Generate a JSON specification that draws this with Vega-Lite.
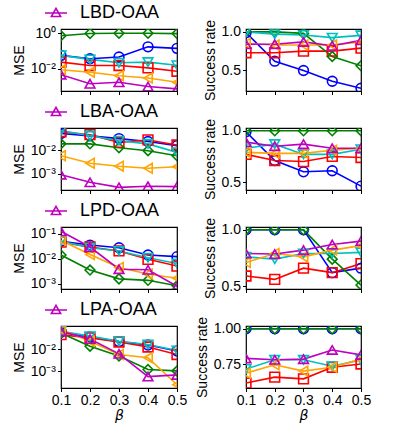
{
  "$schema": "https://vega.github.io/schema/vega-lite/v6.json",
  "padding": {"left": 11, "top": 0, "right": 5, "bottom": 0},
  "config": {
    "font": "Liberation Sans",
    "view": {"stroke": "black", "strokeWidth": 1.2},
    "axis": {"domain": false, "grid": false, "ticks": true, "tickSize": 3.5, "tickColor": "black", "tickWidth": 1, "labelFont": "Liberation Sans", "labelFontSize": 14, "labelColor": "black", "titleFont": "Liberation Sans", "titleFontSize": 14, "titleFontWeight": "normal", "titleColor": "black", "labelPadding": 2, "titlePadding": 4, "labelOverlap": false, "labelFlush": false},
    "legend": {"labelFont": "Liberation Sans"}
  },
  "data": {"values": [
    {"p":"1L","s":"b","x":0.1,"y":0.057},{"p":"1L","s":"b","x":0.2,"y":0.037},{"p":"1L","s":"b","x":0.3,"y":0.046},{"p":"1L","s":"b","x":0.4,"y":0.17},{"p":"1L","s":"b","x":0.5,"y":0.14},
    {"p":"1L","s":"r","x":0.1,"y":0.024},{"p":"1L","s":"r","x":0.2,"y":0.0155},{"p":"1L","s":"r","x":0.3,"y":0.0155},{"p":"1L","s":"r","x":0.4,"y":0.0114},{"p":"1L","s":"r","x":0.5,"y":0.0074},
    {"p":"1L","s":"g","x":0.1,"y":0.70},{"p":"1L","s":"g","x":0.2,"y":0.95},{"p":"1L","s":"g","x":0.3,"y":0.97},{"p":"1L","s":"g","x":0.4,"y":0.97},{"p":"1L","s":"g","x":0.5,"y":0.93},
    {"p":"1L","s":"c","x":0.1,"y":0.057},{"p":"1L","s":"c","x":0.2,"y":0.034},{"p":"1L","s":"c","x":0.3,"y":0.022},{"p":"1L","s":"c","x":0.4,"y":0.024},{"p":"1L","s":"c","x":0.5,"y":0.016},
    {"p":"1L","s":"o","x":0.1,"y":0.0091},{"p":"1L","s":"o","x":0.2,"y":0.0065},{"p":"1L","s":"o","x":0.3,"y":0.0042},{"p":"1L","s":"o","x":0.4,"y":0.0031},{"p":"1L","s":"o","x":0.5,"y":0.0018},
    {"p":"1L","s":"m","x":0.1,"y":0.0048},{"p":"1L","s":"m","x":0.2,"y":0.0015},{"p":"1L","s":"m","x":0.3,"y":0.0018},{"p":"1L","s":"m","x":0.4,"y":0.00105},{"p":"1L","s":"m","x":0.5,"y":0.00077},

    {"p":"1R","s":"b","x":0.1,"y":0.99},{"p":"1R","s":"b","x":0.2,"y":0.62},{"p":"1R","s":"b","x":0.3,"y":0.50},{"p":"1R","s":"b","x":0.4,"y":0.36},{"p":"1R","s":"b","x":0.5,"y":0.27},
    {"p":"1R","s":"r","x":0.1,"y":0.73},{"p":"1R","s":"r","x":0.2,"y":0.73},{"p":"1R","s":"r","x":0.3,"y":0.75},{"p":"1R","s":"r","x":0.4,"y":0.75},{"p":"1R","s":"r","x":0.5,"y":0.79},
    {"p":"1R","s":"g","x":0.1,"y":1.0},{"p":"1R","s":"g","x":0.2,"y":1.0},{"p":"1R","s":"g","x":0.3,"y":0.98},{"p":"1R","s":"g","x":0.4,"y":0.68},{"p":"1R","s":"g","x":0.5,"y":0.56},
    {"p":"1R","s":"c","x":0.1,"y":1.0},{"p":"1R","s":"c","x":0.2,"y":0.97},{"p":"1R","s":"c","x":0.3,"y":0.96},{"p":"1R","s":"c","x":0.4,"y":0.925},{"p":"1R","s":"c","x":0.5,"y":0.955},
    {"p":"1R","s":"o","x":0.1,"y":0.85},{"p":"1R","s":"o","x":0.2,"y":0.83},{"p":"1R","s":"o","x":0.3,"y":0.83},{"p":"1R","s":"o","x":0.4,"y":0.83},{"p":"1R","s":"o","x":0.5,"y":0.87},
    {"p":"1R","s":"m","x":0.1,"y":0.84},{"p":"1R","s":"m","x":0.2,"y":0.84},{"p":"1R","s":"m","x":0.3,"y":0.87},{"p":"1R","s":"m","x":0.4,"y":0.82},{"p":"1R","s":"m","x":0.5,"y":0.89},

    {"p":"2L","s":"b","x":0.1,"y":0.053},{"p":"2L","s":"b","x":0.2,"y":0.042},{"p":"2L","s":"b","x":0.3,"y":0.032},{"p":"2L","s":"b","x":0.4,"y":0.024},{"p":"2L","s":"b","x":0.5,"y":0.016},
    {"p":"2L","s":"r","x":0.1,"y":0.063},{"p":"2L","s":"r","x":0.2,"y":0.047},{"p":"2L","s":"r","x":0.3,"y":0.022},{"p":"2L","s":"r","x":0.4,"y":0.028},{"p":"2L","s":"r","x":0.5,"y":0.017},
    {"p":"2L","s":"g","x":0.1,"y":0.019},{"p":"2L","s":"g","x":0.2,"y":0.019},{"p":"2L","s":"g","x":0.3,"y":0.013},{"p":"2L","s":"g","x":0.4,"y":0.0097},{"p":"2L","s":"g","x":0.5,"y":0.0059},
    {"p":"2L","s":"c","x":0.1,"y":0.070},{"p":"2L","s":"c","x":0.2,"y":0.042},{"p":"2L","s":"c","x":0.3,"y":0.026},{"p":"2L","s":"c","x":0.4,"y":0.019},{"p":"2L","s":"c","x":0.5,"y":0.0082},
    {"p":"2L","s":"o","x":0.1,"y":0.0059},{"p":"2L","s":"o","x":0.2,"y":0.0028},{"p":"2L","s":"o","x":0.3,"y":0.0021},{"p":"2L","s":"o","x":0.4,"y":0.0017},{"p":"2L","s":"o","x":0.5,"y":0.0020},
    {"p":"2L","s":"m","x":0.1,"y":0.00091},{"p":"2L","s":"m","x":0.2,"y":0.00043},{"p":"2L","s":"m","x":0.3,"y":0.00026},{"p":"2L","s":"m","x":0.4,"y":0.00029},{"p":"2L","s":"m","x":0.5,"y":0.00028},

    {"p":"2R","s":"b","x":0.1,"y":0.99},{"p":"2R","s":"b","x":0.2,"y":0.71},{"p":"2R","s":"b","x":0.3,"y":0.60},{"p":"2R","s":"b","x":0.4,"y":0.61},{"p":"2R","s":"b","x":0.5,"y":0.46},
    {"p":"2R","s":"r","x":0.1,"y":0.77},{"p":"2R","s":"r","x":0.2,"y":0.71},{"p":"2R","s":"r","x":0.3,"y":0.70},{"p":"2R","s":"r","x":0.4,"y":0.75},{"p":"2R","s":"r","x":0.5,"y":0.74},
    {"p":"2R","s":"g","x":0.1,"y":1.0},{"p":"2R","s":"g","x":0.2,"y":1.0},{"p":"2R","s":"g","x":0.3,"y":1.0},{"p":"2R","s":"g","x":0.4,"y":1.0},{"p":"2R","s":"g","x":0.5,"y":1.0},
    {"p":"2R","s":"c","x":0.1,"y":0.83},{"p":"2R","s":"c","x":0.2,"y":0.87},{"p":"2R","s":"c","x":0.3,"y":0.77},{"p":"2R","s":"c","x":0.4,"y":0.77},{"p":"2R","s":"c","x":0.5,"y":0.82},
    {"p":"2R","s":"o","x":0.1,"y":0.79},{"p":"2R","s":"o","x":0.2,"y":0.78},{"p":"2R","s":"o","x":0.3,"y":0.78},{"p":"2R","s":"o","x":0.4,"y":0.81},{"p":"2R","s":"o","x":0.5,"y":0.83},
    {"p":"2R","s":"m","x":0.1,"y":0.89},{"p":"2R","s":"m","x":0.2,"y":0.85},{"p":"2R","s":"m","x":0.3,"y":0.87},{"p":"2R","s":"m","x":0.4,"y":0.83},{"p":"2R","s":"m","x":0.5,"y":0.83},

    {"p":"3L","s":"b","x":0.1,"y":0.051},{"p":"3L","s":"b","x":0.2,"y":0.036},{"p":"3L","s":"b","x":0.3,"y":0.028},{"p":"3L","s":"b","x":0.4,"y":0.0144},{"p":"3L","s":"b","x":0.5,"y":0.0124},
    {"p":"3L","s":"r","x":0.1,"y":0.047},{"p":"3L","s":"r","x":0.2,"y":0.030},{"p":"3L","s":"r","x":0.3,"y":0.021},{"p":"3L","s":"r","x":0.4,"y":0.0097},{"p":"3L","s":"r","x":0.5,"y":0.0052},
    {"p":"3L","s":"g","x":0.1,"y":0.0144},{"p":"3L","s":"g","x":0.2,"y":0.0036},{"p":"3L","s":"g","x":0.3,"y":0.0016},{"p":"3L","s":"g","x":0.4,"y":0.0014},{"p":"3L","s":"g","x":0.5,"y":0.00085},
    {"p":"3L","s":"c","x":0.1,"y":0.051},{"p":"3L","s":"c","x":0.2,"y":0.028},{"p":"3L","s":"c","x":0.3,"y":0.021},{"p":"3L","s":"c","x":0.4,"y":0.0112},{"p":"3L","s":"c","x":0.5,"y":0.0066},
    {"p":"3L","s":"o","x":0.1,"y":0.056},{"p":"3L","s":"o","x":0.2,"y":0.015},{"p":"3L","s":"o","x":0.3,"y":0.0046},{"p":"3L","s":"o","x":0.4,"y":0.0025},{"p":"3L","s":"o","x":0.5,"y":0.0017},
    {"p":"3L","s":"m","x":0.1,"y":0.128},{"p":"3L","s":"m","x":0.2,"y":0.030},{"p":"3L","s":"m","x":0.3,"y":0.0039},{"p":"3L","s":"m","x":0.4,"y":0.0037},{"p":"3L","s":"m","x":0.5,"y":0.00081},

    {"p":"3R","s":"b","x":0.1,"y":1.0},{"p":"3R","s":"b","x":0.2,"y":1.0},{"p":"3R","s":"b","x":0.3,"y":1.0},{"p":"3R","s":"b","x":0.4,"y":0.62},{"p":"3R","s":"b","x":0.5,"y":0.66},
    {"p":"3R","s":"r","x":0.1,"y":0.59},{"p":"3R","s":"r","x":0.2,"y":0.56},{"p":"3R","s":"r","x":0.3,"y":0.66},{"p":"3R","s":"r","x":0.4,"y":0.62},{"p":"3R","s":"r","x":0.5,"y":0.70},
    {"p":"3R","s":"g","x":0.1,"y":1.0},{"p":"3R","s":"g","x":0.2,"y":1.0},{"p":"3R","s":"g","x":0.3,"y":1.0},{"p":"3R","s":"g","x":0.4,"y":0.74},{"p":"3R","s":"g","x":0.5,"y":0.51},
    {"p":"3R","s":"c","x":0.1,"y":0.76},{"p":"3R","s":"c","x":0.2,"y":0.74},{"p":"3R","s":"c","x":0.3,"y":0.79},{"p":"3R","s":"c","x":0.4,"y":0.79},{"p":"3R","s":"c","x":0.5,"y":0.80},
    {"p":"3R","s":"o","x":0.1,"y":0.71},{"p":"3R","s":"o","x":0.2,"y":0.79},{"p":"3R","s":"o","x":0.3,"y":0.76},{"p":"3R","s":"o","x":0.4,"y":0.82},{"p":"3R","s":"o","x":0.5,"y":0.86},
    {"p":"3R","s":"m","x":0.1,"y":0.79},{"p":"3R","s":"m","x":0.2,"y":0.785},{"p":"3R","s":"m","x":0.3,"y":0.82},{"p":"3R","s":"m","x":0.4,"y":0.87},{"p":"3R","s":"m","x":0.5,"y":0.90},

    {"p":"4L","s":"b","x":0.1,"y":0.062},{"p":"4L","s":"b","x":0.2,"y":0.038},{"p":"4L","s":"b","x":0.3,"y":0.023},{"p":"4L","s":"b","x":0.4,"y":0.016},{"p":"4L","s":"b","x":0.5,"y":0.0085},
    {"p":"4L","s":"r","x":0.1,"y":0.048},{"p":"4L","s":"r","x":0.2,"y":0.034},{"p":"4L","s":"r","x":0.3,"y":0.022},{"p":"4L","s":"r","x":0.4,"y":0.013},{"p":"4L","s":"r","x":0.5,"y":0.0059},
    {"p":"4L","s":"g","x":0.1,"y":0.057},{"p":"4L","s":"g","x":0.2,"y":0.014},{"p":"4L","s":"g","x":0.3,"y":0.005},{"p":"4L","s":"g","x":0.4,"y":0.0012},{"p":"4L","s":"g","x":0.5,"y":0.00104},
    {"p":"4L","s":"c","x":0.1,"y":0.068},{"p":"4L","s":"c","x":0.2,"y":0.041},{"p":"4L","s":"c","x":0.3,"y":0.024},{"p":"4L","s":"c","x":0.4,"y":0.017},{"p":"4L","s":"c","x":0.5,"y":0.0090},
    {"p":"4L","s":"o","x":0.1,"y":0.081},{"p":"4L","s":"o","x":0.2,"y":0.024},{"p":"4L","s":"o","x":0.3,"y":0.0059},{"p":"4L","s":"o","x":0.4,"y":0.0042},{"p":"4L","s":"o","x":0.5,"y":0.00024},
    {"p":"4L","s":"m","x":0.1,"y":0.068},{"p":"4L","s":"m","x":0.2,"y":0.030},{"p":"4L","s":"m","x":0.3,"y":0.0063},{"p":"4L","s":"m","x":0.4,"y":0.00057},{"p":"4L","s":"m","x":0.5,"y":0.00068},

    {"p":"4R","s":"b","x":0.1,"y":1.0},{"p":"4R","s":"b","x":0.2,"y":1.0},{"p":"4R","s":"b","x":0.3,"y":1.0},{"p":"4R","s":"b","x":0.4,"y":1.0},{"p":"4R","s":"b","x":0.5,"y":1.0},
    {"p":"4R","s":"r","x":0.1,"y":0.615},{"p":"4R","s":"r","x":0.2,"y":0.657},{"p":"4R","s":"r","x":0.3,"y":0.645},{"p":"4R","s":"r","x":0.4,"y":0.727},{"p":"4R","s":"r","x":0.5,"y":0.75},
    {"p":"4R","s":"g","x":0.1,"y":1.0},{"p":"4R","s":"g","x":0.2,"y":1.0},{"p":"4R","s":"g","x":0.3,"y":1.0},{"p":"4R","s":"g","x":0.4,"y":1.0},{"p":"4R","s":"g","x":0.5,"y":1.0},
    {"p":"4R","s":"c","x":0.1,"y":0.715},{"p":"4R","s":"c","x":0.2,"y":0.78},{"p":"4R","s":"c","x":0.3,"y":0.78},{"p":"4R","s":"c","x":0.4,"y":0.735},{"p":"4R","s":"c","x":0.5,"y":0.78},
    {"p":"4R","s":"o","x":0.1,"y":0.685},{"p":"4R","s":"o","x":0.2,"y":0.745},{"p":"4R","s":"o","x":0.3,"y":0.70},{"p":"4R","s":"o","x":0.4,"y":0.727},{"p":"4R","s":"o","x":0.5,"y":0.785},
    {"p":"4R","s":"m","x":0.1,"y":0.79},{"p":"4R","s":"m","x":0.2,"y":0.78},{"p":"4R","s":"m","x":0.3,"y":0.785},{"p":"4R","s":"m","x":0.4,"y":0.85},{"p":"4R","s":"m","x":0.5,"y":0.815}
  ]},
  "columns": 2,
  "bounds": "flush",
  "spacing": {"row": 37, "column": 69},
  "resolve": {"scale": {"color": "independent", "x": "independent", "y": "independent"}, "legend": {"color": "independent"}},
  "concat": [
      {"width": 116, "height": 62, "transform": [{"filter": "datum.p == '1L'"}],
       "encoding": {
         "x": {"field": "x", "type": "quantitative", "scale": {"domain": [0.1, 0.5], "nice": false, "zero": false}, "axis": {"values": [0.1, 0.2, 0.3, 0.4, 0.5], "labels": false, "title": null}},
         "y": {"field": "y", "type": "quantitative", "scale": {"type": "log", "domain": [0.00059, 1.68], "nice": false}, "axis": {"values": [1, 0.01], "labelExpr": "datum.value > 0.5 ? '10⁰' : datum.value > 0.05 ? '10⁻¹' : datum.value > 0.005 ? '10⁻²' : '10⁻³'", "title": "MSE"}}
       },
       "layer": [
         {"mark": {"type": "line", "strokeWidth": 1.6, "clip": true},
          "encoding": {"color": {"field": "s", "type": "nominal", "scale": {"domain": ["b", "r", "g", "c", "o", "m"], "range": ["#0000ff", "#ff0000", "#008000", "#00bfbf", "#ffa500", "#bf00bf"]},
            "legend": {"values": ["m"], "labelExpr": "'LBD-OAA'", "title": null, "orient": "none", "legendX": -17, "legendY": -28, "symbolType": "M-1,0H1M0,-0.42L0.42,0.32L-0.42,0.32Z", "symbolSize": 484, "symbolStrokeWidth": 1.6, "labelFontSize": 18, "labelColor": "black", "labelOffset": 12}}}},
         {"mark": {"type": "point", "filled": false, "size": 95, "strokeWidth": 1.6, "clip": true, "opacity": 1},
          "encoding": {"color": {"field": "s", "type": "nominal", "legend": null},
            "shape": {"condition": [{"test": "datum.s == 'b'", "value": "circle"}, {"test": "datum.s == 'r'", "value": "square"}, {"test": "datum.s == 'g'", "value": "diamond"}, {"test": "datum.s == 'c'", "value": "triangle-down"}, {"test": "datum.s == 'o'", "value": "triangle-left"}], "value": "triangle-up"}}}
       ]},
      {"width": 115, "height": 62, "transform": [{"filter": "datum.p == '1R'"}],
       "encoding": {
         "x": {"field": "x", "type": "quantitative", "scale": {"domain": [0.1, 0.5], "nice": false, "zero": false}, "axis": {"values": [0.1, 0.2, 0.3, 0.4, 0.5], "labels": false, "title": null}},
         "y": {"field": "y", "type": "quantitative", "scale": {"domain": [0.234, 1.037], "nice": false, "zero": false}, "axis": {"values": [0.5, 1.0], "format": ".1f", "title": "Success rate"}},
         "color": {"field": "s", "type": "nominal", "scale": {"domain": ["b", "r", "g", "c", "o", "m"], "range": ["#0000ff", "#ff0000", "#008000", "#00bfbf", "#ffa500", "#bf00bf"]}, "legend": null}
       },
       "layer": [
         {"mark": {"type": "line", "strokeWidth": 1.6, "clip": true}, "encoding": {}},
         {"mark": {"type": "point", "filled": false, "size": 95, "strokeWidth": 1.6, "clip": true, "opacity": 1},
          "encoding": {"shape": {"condition": [{"test": "datum.s == 'b'", "value": "circle"}, {"test": "datum.s == 'r'", "value": "square"}, {"test": "datum.s == 'g'", "value": "diamond"}, {"test": "datum.s == 'c'", "value": "triangle-down"}, {"test": "datum.s == 'o'", "value": "triangle-left"}], "value": "triangle-up"}}}
       ]},
      {"width": 116, "height": 62, "transform": [{"filter": "datum.p == '2L'"}],
       "encoding": {
         "x": {"field": "x", "type": "quantitative", "scale": {"domain": [0.1, 0.5], "nice": false, "zero": false}, "axis": {"values": [0.1, 0.2, 0.3, 0.4, 0.5], "labels": false, "title": null}},
         "y": {"field": "y", "type": "quantitative", "scale": {"type": "log", "domain": [0.0002, 0.091], "nice": false}, "axis": {"values": [0.01, 0.001], "labelExpr": "datum.value > 0.5 ? '10⁰' : datum.value > 0.05 ? '10⁻¹' : datum.value > 0.005 ? '10⁻²' : '10⁻³'", "title": "MSE"}}
       },
       "layer": [
         {"mark": {"type": "line", "strokeWidth": 1.6, "clip": true},
          "encoding": {"color": {"field": "s", "type": "nominal", "scale": {"domain": ["b", "r", "g", "c", "o", "m"], "range": ["#0000ff", "#ff0000", "#008000", "#00bfbf", "#ffa500", "#bf00bf"]},
            "legend": {"values": ["m"], "labelExpr": "'LBA-OAA'", "title": null, "orient": "none", "legendX": -17, "legendY": -28, "symbolType": "M-1,0H1M0,-0.42L0.42,0.32L-0.42,0.32Z", "symbolSize": 484, "symbolStrokeWidth": 1.6, "labelFontSize": 18, "labelColor": "black", "labelOffset": 12}}}},
         {"mark": {"type": "point", "filled": false, "size": 95, "strokeWidth": 1.6, "clip": true, "opacity": 1},
          "encoding": {"color": {"field": "s", "type": "nominal", "legend": null},
            "shape": {"condition": [{"test": "datum.s == 'b'", "value": "circle"}, {"test": "datum.s == 'r'", "value": "square"}, {"test": "datum.s == 'g'", "value": "diamond"}, {"test": "datum.s == 'c'", "value": "triangle-down"}, {"test": "datum.s == 'o'", "value": "triangle-left"}], "value": "triangle-up"}}}
       ]},
      {"width": 115, "height": 62, "transform": [{"filter": "datum.p == '2R'"}],
       "encoding": {
         "x": {"field": "x", "type": "quantitative", "scale": {"domain": [0.1, 0.5], "nice": false, "zero": false}, "axis": {"values": [0.1, 0.2, 0.3, 0.4, 0.5], "labels": false, "title": null}},
         "y": {"field": "y", "type": "quantitative", "scale": {"domain": [0.4225, 1.0275], "nice": false, "zero": false}, "axis": {"values": [0.5, 1.0], "format": ".1f", "title": "Success rate"}},
         "color": {"field": "s", "type": "nominal", "scale": {"domain": ["b", "r", "g", "c", "o", "m"], "range": ["#0000ff", "#ff0000", "#008000", "#00bfbf", "#ffa500", "#bf00bf"]}, "legend": null}
       },
       "layer": [
         {"mark": {"type": "line", "strokeWidth": 1.6, "clip": true}, "encoding": {}},
         {"mark": {"type": "point", "filled": false, "size": 95, "strokeWidth": 1.6, "clip": true, "opacity": 1},
          "encoding": {"shape": {"condition": [{"test": "datum.s == 'b'", "value": "circle"}, {"test": "datum.s == 'r'", "value": "square"}, {"test": "datum.s == 'g'", "value": "diamond"}, {"test": "datum.s == 'c'", "value": "triangle-down"}, {"test": "datum.s == 'o'", "value": "triangle-left"}], "value": "triangle-up"}}}
       ]},
      {"width": 116, "height": 62, "transform": [{"filter": "datum.p == '3L'"}],
       "encoding": {
         "x": {"field": "x", "type": "quantitative", "scale": {"domain": [0.1, 0.5], "nice": false, "zero": false}, "axis": {"values": [0.1, 0.2, 0.3, 0.4, 0.5], "labels": false, "title": null}},
         "y": {"field": "y", "type": "quantitative", "scale": {"type": "log", "domain": [0.00063, 0.19], "nice": false}, "axis": {"values": [0.1, 0.01, 0.001], "labelExpr": "datum.value > 0.5 ? '10⁰' : datum.value > 0.05 ? '10⁻¹' : datum.value > 0.005 ? '10⁻²' : '10⁻³'", "title": "MSE"}}
       },
       "layer": [
         {"mark": {"type": "line", "strokeWidth": 1.6, "clip": true},
          "encoding": {"color": {"field": "s", "type": "nominal", "scale": {"domain": ["b", "r", "g", "c", "o", "m"], "range": ["#0000ff", "#ff0000", "#008000", "#00bfbf", "#ffa500", "#bf00bf"]},
            "legend": {"values": ["m"], "labelExpr": "'LPD-OAA'", "title": null, "orient": "none", "legendX": -17, "legendY": -28, "symbolType": "M-1,0H1M0,-0.42L0.42,0.32L-0.42,0.32Z", "symbolSize": 484, "symbolStrokeWidth": 1.6, "labelFontSize": 18, "labelColor": "black", "labelOffset": 12}}}},
         {"mark": {"type": "point", "filled": false, "size": 95, "strokeWidth": 1.6, "clip": true, "opacity": 1},
          "encoding": {"color": {"field": "s", "type": "nominal", "legend": null},
            "shape": {"condition": [{"test": "datum.s == 'b'", "value": "circle"}, {"test": "datum.s == 'r'", "value": "square"}, {"test": "datum.s == 'g'", "value": "diamond"}, {"test": "datum.s == 'c'", "value": "triangle-down"}, {"test": "datum.s == 'o'", "value": "triangle-left"}], "value": "triangle-up"}}}
       ]},
      {"width": 115, "height": 62, "transform": [{"filter": "datum.p == '3R'"}],
       "encoding": {
         "x": {"field": "x", "type": "quantitative", "scale": {"domain": [0.1, 0.5], "nice": false, "zero": false}, "axis": {"values": [0.1, 0.2, 0.3, 0.4, 0.5], "labels": false, "title": null}},
         "y": {"field": "y", "type": "quantitative", "scale": {"domain": [0.475, 1.025], "nice": false, "zero": false}, "axis": {"values": [0.5, 1.0], "format": ".1f", "title": "Success rate"}},
         "color": {"field": "s", "type": "nominal", "scale": {"domain": ["b", "r", "g", "c", "o", "m"], "range": ["#0000ff", "#ff0000", "#008000", "#00bfbf", "#ffa500", "#bf00bf"]}, "legend": null}
       },
       "layer": [
         {"mark": {"type": "line", "strokeWidth": 1.6, "clip": true}, "encoding": {}},
         {"mark": {"type": "point", "filled": false, "size": 95, "strokeWidth": 1.6, "clip": true, "opacity": 1},
          "encoding": {"shape": {"condition": [{"test": "datum.s == 'b'", "value": "circle"}, {"test": "datum.s == 'r'", "value": "square"}, {"test": "datum.s == 'g'", "value": "diamond"}, {"test": "datum.s == 'c'", "value": "triangle-down"}, {"test": "datum.s == 'o'", "value": "triangle-left"}], "value": "triangle-up"}}}
       ]},
      {"width": 116, "height": 62, "transform": [{"filter": "datum.p == '4L'"}],
       "encoding": {
         "x": {"field": "x", "type": "quantitative", "scale": {"domain": [0.1, 0.5], "nice": false, "zero": false}, "axis": {"values": [0.1, 0.2, 0.3, 0.4, 0.5], "format": ".1f", "title": "β", "titleFont": "DejaVu Sans", "titleFontStyle": "italic", "titlePadding": 1}},
         "y": {"field": "y", "type": "quantitative", "scale": {"type": "log", "domain": [0.00017, 0.12], "nice": false}, "axis": {"values": [0.01, 0.001], "labelExpr": "datum.value > 0.5 ? '10⁰' : datum.value > 0.05 ? '10⁻¹' : datum.value > 0.005 ? '10⁻²' : '10⁻³'", "title": "MSE"}}
       },
       "layer": [
         {"mark": {"type": "line", "strokeWidth": 1.6, "clip": true},
          "encoding": {"color": {"field": "s", "type": "nominal", "scale": {"domain": ["b", "r", "g", "c", "o", "m"], "range": ["#0000ff", "#ff0000", "#008000", "#00bfbf", "#ffa500", "#bf00bf"]},
            "legend": {"values": ["m"], "labelExpr": "'LPA-OAA'", "title": null, "orient": "none", "legendX": -17, "legendY": -28, "symbolType": "M-1,0H1M0,-0.42L0.42,0.32L-0.42,0.32Z", "symbolSize": 484, "symbolStrokeWidth": 1.6, "labelFontSize": 18, "labelColor": "black", "labelOffset": 12}}}},
         {"mark": {"type": "point", "filled": false, "size": 95, "strokeWidth": 1.6, "clip": true, "opacity": 1},
          "encoding": {"color": {"field": "s", "type": "nominal", "legend": null},
            "shape": {"condition": [{"test": "datum.s == 'b'", "value": "circle"}, {"test": "datum.s == 'r'", "value": "square"}, {"test": "datum.s == 'g'", "value": "diamond"}, {"test": "datum.s == 'c'", "value": "triangle-down"}, {"test": "datum.s == 'o'", "value": "triangle-left"}], "value": "triangle-up"}}}
       ]},
      {"width": 115, "height": 62, "transform": [{"filter": "datum.p == '4R'"}],
       "encoding": {
         "x": {"field": "x", "type": "quantitative", "scale": {"domain": [0.1, 0.5], "nice": false, "zero": false}, "axis": {"values": [0.1, 0.2, 0.3, 0.4, 0.5], "format": ".1f", "title": "β", "titleFont": "DejaVu Sans", "titleFontStyle": "italic", "titlePadding": 1}},
         "y": {"field": "y", "type": "quantitative", "scale": {"domain": [0.58, 1.02], "nice": false, "zero": false}, "axis": {"values": [0.75, 1.0], "format": ".2f", "title": "Success rate"}},
         "color": {"field": "s", "type": "nominal", "scale": {"domain": ["b", "r", "g", "c", "o", "m"], "range": ["#0000ff", "#ff0000", "#008000", "#00bfbf", "#ffa500", "#bf00bf"]}, "legend": null}
       },
       "layer": [
         {"mark": {"type": "line", "strokeWidth": 1.6, "clip": true}, "encoding": {}},
         {"mark": {"type": "point", "filled": false, "size": 95, "strokeWidth": 1.6, "clip": true, "opacity": 1},
          "encoding": {"shape": {"condition": [{"test": "datum.s == 'b'", "value": "circle"}, {"test": "datum.s == 'r'", "value": "square"}, {"test": "datum.s == 'g'", "value": "diamond"}, {"test": "datum.s == 'c'", "value": "triangle-down"}, {"test": "datum.s == 'o'", "value": "triangle-left"}], "value": "triangle-up"}}}
       ]}
  ]
}
